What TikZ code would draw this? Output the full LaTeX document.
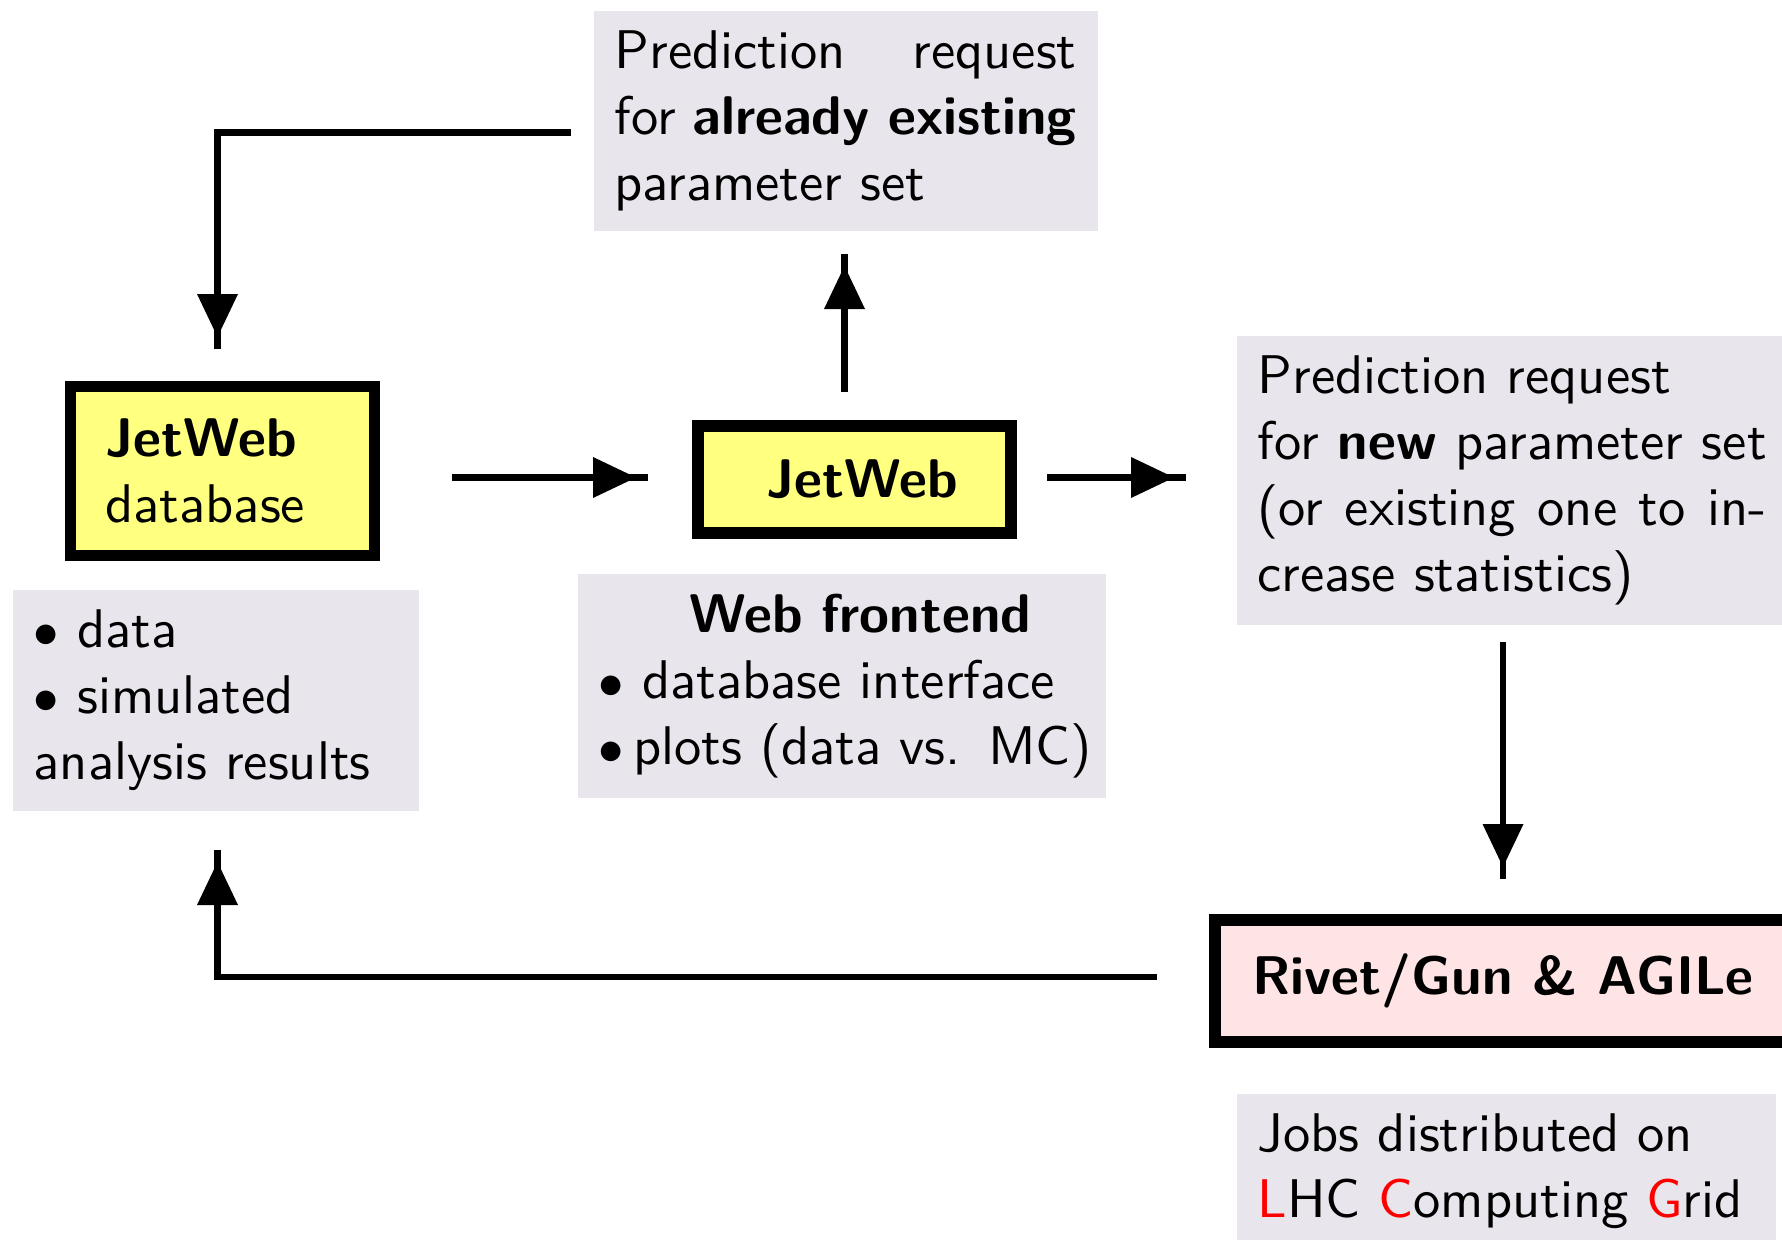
\documentclass[tikz,border=0pt]{standalone}
\usetikzlibrary{decorations.markings}
\DeclareFontFamily{TU}{lmssten}{}
\DeclareFontShape{TU}{lmssten}{m}{n}{<-> "[lmsans10-regular.otf]:mapping=tex-text"}{}
\DeclareFontShape{TU}{lmssten}{bx}{n}{<-> "[lmsans10-bold.otf]:mapping=tex-text"}{}
\DeclareFontShape{TU}{lmssten}{b}{n}{<-> ssub * lmssten/bx/n}{}
\renewcommand{\sfdefault}{lmssten}
\renewcommand{\familydefault}{\sfdefault}
\definecolor{dbyellow}{RGB}{255,255,128}
\definecolor{gridpink}{RGB}{255,228,230}
\definecolor{notegray}{RGB}{233,229,236}
\newcommand{\flowhead}{\fill (0,0) -- (-4.3mm,2.05mm) -- (-4.3mm,-2.05mm) -- cycle;}
\begin{document}
\begin{tikzpicture}
		[x=0.1mm,y=-0.1mm,
		font=\fontsize{15.5}{18.8}\selectfont,
		note/.style={fill=notegray,inner xsep=2.1mm,inner ysep=2mm,anchor=north west,align=left},
		jetbox/.style={draw,line width=1.2mm,fill=dbyellow},
		flow/.style={line width=0.68mm,postaction={decorate},
			decoration={markings,mark=at position -1.2mm with {\flowhead}}}]
		\useasboundingbox (0,0) rectangle (1782,1240);
		\node[note,align=justify,text width=46.2mm,name=req1] at (593,10)
		{Prediction request\linebreak for \textbf{already existing}\linebreak parameter set};
		\node[jetbox,line width=1.1mm,anchor=north west,inner xsep=3.5mm,inner ysep=3.25mm,text width=23.4mm,align=left,name=db] at (65,381)
		{\textbf{JetWeb}\\ database};
		\node[note,text width=36.4mm,name=dbinfo] at (12,589)
		{$\bullet$ data\\ $\bullet$ simulated\\ analysis results};
		\node[jetbox,minimum width=31.3mm,minimum height=10.7mm,name=web] at (854,479)
		{\hspace*{1.6mm}\textbf{JetWeb}};
		\node[note,text width=48.6mm,name=webinfo] at (577,573)
		{\hspace*{9.1mm}\textbf{Web frontend}\\ $\bullet$ database interface\\ \mbox{$\bullet$\,plots (data vs. MC)}};
		\node[note,align=justify,text width=50.9mm,name=req2] at (1236,335)
		{Prediction request\\ for \textbf{new} parameter set\linebreak (or existing one to in-\linebreak crease statistics)};
		\node[jetbox,fill=gridpink,minimum width=57.6mm,minimum height=12.15mm,name=grid] at (1503,981)
		{\textbf{Rivet/Gun \& AGILe}};
		\node[note,text width=49.7mm,name=jobs] at (1236,1093)
		{Jobs distributed on\\ \textcolor{red}{L}HC \textcolor{red}{C}omputing \textcolor{red}{G}rid};
		\coordinate (a1s) at (571,132.5);
		\coordinate (a1e) at (217.5,349);
		\coordinate (a2s) at (452,477.5);
		\coordinate (a2e) at (648,477.5);
		\coordinate (a3s) at (844.5,392);
		\coordinate (a3e) at (844.5,254);
		\coordinate (a4s) at (1047,477.5);
		\coordinate (a4e) at (1186,477.5);
		\coordinate (a5s) at (1503,642);
		\coordinate (a5e) at (1503,879);
		\coordinate (a6s) at (1157,977);
		\coordinate (a6e) at (217.5,850);
		\draw[flow] (a1s) -| (a1e);
		\draw[flow] (a6s) -| (a6e);
		\foreach \s/\e in {a2s/a2e,a3s/a3e,a4s/a4e,a5s/a5e}
		{
			\draw[flow] (\s) -- (\e);
		}
	\end{tikzpicture}
\end{document}
